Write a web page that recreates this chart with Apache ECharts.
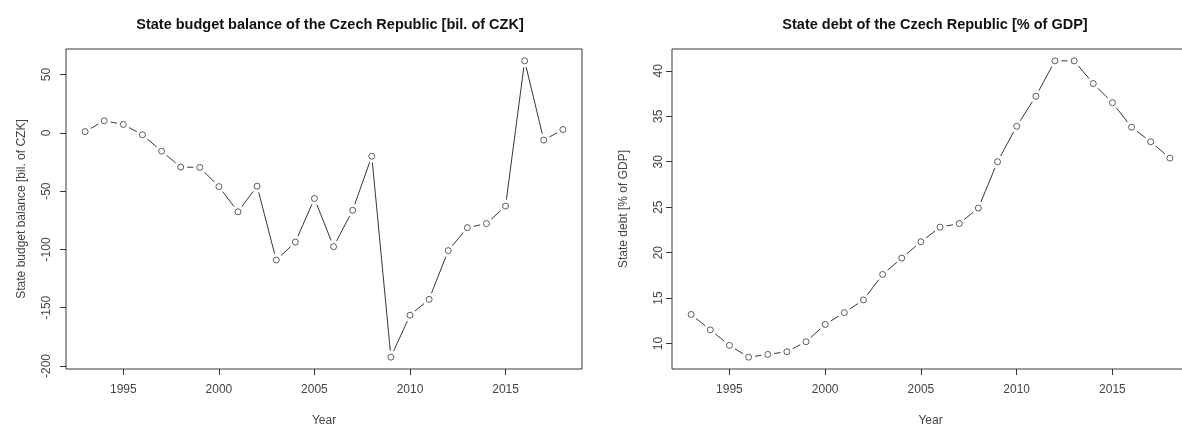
<!DOCTYPE html>
<html>
<head>
<meta charset="utf-8">
<script src="https://cdn.jsdelivr.net/npm/echarts@6/dist/echarts.min.js"></script>
<style>
html,body{margin:0;padding:0;background:#fff;}
#chart{width:1182px;height:428px;}
</style>
</head>
<body>
<div id="chart"></div>
<script>
// ---- data ----
const years = [1993,1994,1995,1996,1997,1998,1999,2000,2001,2002,2003,2004,2005,2006,2007,2008,2009,2010,2011,2012,2013,2014,2015,2016,2017,2018];
const balance = [1.1,10.4,7.2,-1.6,-15.7,-29.3,-29.6,-46.1,-67.7,-45.7,-109.1,-93.7,-56.3,-97.6,-66.4,-20.0,-192.4,-156.4,-142.8,-101.0,-81.3,-77.8,-62.8,61.8,-6.2,2.9];
const debt = [13.2,11.5,9.8,8.5,8.8,9.1,10.2,12.1,13.4,14.8,17.6,19.4,21.2,22.8,23.2,24.9,30.0,33.9,37.2,41.1,41.1,38.6,36.5,33.8,32.2,30.4];
const xTicks = [1995,2000,2005,2010,2015];
const balanceTicks = [-200,-150,-100,-50,0,50];
const debtTicks = [10,15,20,25,30,35,40];

const titleBalance = 'State budget balance of the Czech Republic [bil. of CZK]';
const titleDebt = 'State debt of the Czech Republic [% of GDP]';
const yNameBalance = 'State budget balance [bil. of CZK]';
const yNameDebt = 'State debt [% of GDP]';
const xName = 'Year';

// R-like axis range: 4% padding on each side
function rRange(arr){
  const mn = Math.min.apply(null, arr), mx = Math.max.apply(null, arr);
  const p = (mx - mn) * 0.04;
  return [mn - p, mx + p];
}
const xr = rRange(years), br = rRange(balance), dr = rRange(debt);

const FONT = '"Liberation Sans", Arial, sans-serif';
const LINE = '#363636';
const TEXT = '#444';

function segRenderer(ys){
  return function(params, api){
    const i = params.dataIndex;
    if (i === 0) return null;
    const a = api.coord([years[i-1], ys[i-1]]);
    const b = api.coord([years[i], ys[i]]);
    const dx = b[0]-a[0], dy = b[1]-a[1];
    const L = Math.hypot(dx, dy);
    const g = 6.5;
    if (L <= 2*g + 1) return null;
    const ux = dx/L, uy = dy/L;
    return {
      type: 'line',
      shape: {x1: a[0]+ux*g, y1: a[1]+uy*g, x2: b[0]-ux*g, y2: b[1]-uy*g},
      style: {stroke: LINE, lineWidth: 1}
    };
  };
}

function xAxis(gi){
  return {
    gridIndex: gi, type: 'value', min: xr[0], max: xr[1],
    axisLine: {show: false, onZero: false},
    axisTick: {show: true, length: 6, customValues: xTicks, lineStyle: {color: LINE}},
    axisLabel: {customValues: xTicks, margin: 15, color: TEXT, fontSize: 12, fontFamily: FONT,
                formatter: v => String(v)},
    splitLine: {show: false},
    name: xName, nameLocation: 'middle', nameGap: 46,
    nameTextStyle: {color: TEXT, fontSize: 12, fontFamily: FONT}
  };
}
function yAxis(gi, r, ticks, name, lblMargin, nameGap){
  return {
    gridIndex: gi, type: 'value', min: r[0], max: r[1],
    axisLine: {show: false, onZero: false},
    axisTick: {show: true, length: 6, customValues: ticks, lineStyle: {color: LINE}},
    axisLabel: {customValues: ticks, rotate: 90, margin: lblMargin, color: TEXT, fontSize: 12, fontFamily: FONT,
                formatter: v => String(v)},
    splitLine: {show: false},
    name: name, nameLocation: 'middle', nameGap: nameGap, nameRotate: 90,
    nameTextStyle: {color: TEXT, fontSize: 12, fontFamily: FONT}
  };
}

const chart = echarts.init(document.getElementById('chart'), null, {renderer: 'canvas'});
chart.setOption({
  animation: false,
  backgroundColor: '#fff',
  title: [
    {text: titleBalance, left: 325, top: 12, textAlign: 'center',
     textStyle: {fontSize: 14.5, fontWeight: 'bold', color: '#111', fontFamily: FONT}},
    {text: titleDebt, left: 930, top: 12, textAlign: 'center',
     textStyle: {fontSize: 14.5, fontWeight: 'bold', color: '#111', fontFamily: FONT}}
  ],
  grid: [
    {left: 66, top: 49, width: 516, height: 320, show: true, borderColor: LINE, borderWidth: 1,
     backgroundColor: 'transparent', containLabel: false, outerBoundsMode: 'none'},
    {left: 672, top: 49, width: 517, height: 320, show: true, borderColor: LINE, borderWidth: 1,
     backgroundColor: 'transparent', containLabel: false, outerBoundsMode: 'none'}
  ],
  xAxis: [xAxis(0), xAxis(1)],
  yAxis: [
    yAxis(0, br, balanceTicks, yNameBalance, 13, 38),
    yAxis(1, dr, debtTicks, yNameDebt, 7, 42)
  ],
  series: [
    {type: 'custom', xAxisIndex: 0, yAxisIndex: 0, renderItem: segRenderer(balance),
     data: years.map((y, i) => [y, balance[i]]), silent: true},
    {type: 'scatter', xAxisIndex: 0, yAxisIndex: 0, symbol: 'circle', symbolSize: 6,
     itemStyle: {color: 'rgba(255,255,255,0)', borderColor: LINE, borderWidth: 1},
     data: years.map((y, i) => [y, balance[i]]), silent: true},
    {type: 'custom', xAxisIndex: 1, yAxisIndex: 1, renderItem: segRenderer(debt),
     data: years.map((y, i) => [y, debt[i]]), silent: true},
    {type: 'scatter', xAxisIndex: 1, yAxisIndex: 1, symbol: 'circle', symbolSize: 6,
     itemStyle: {color: 'rgba(255,255,255,0)', borderColor: LINE, borderWidth: 1},
     data: years.map((y, i) => [y, debt[i]]), silent: true}
  ]
});
</script>
</body>
</html>
